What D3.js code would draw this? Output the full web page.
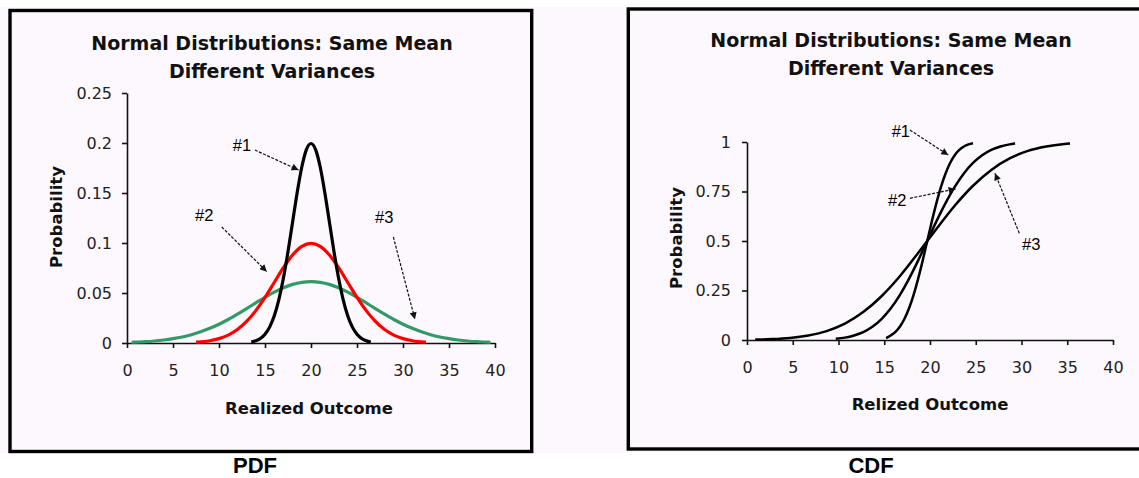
<!DOCTYPE html>
<html><head><meta charset="utf-8">
<script src="https://cdn.jsdelivr.net/npm/d3@7"></script>
<style>body{margin:0;background:#fff}svg{display:block}</style>
</head><body><svg id="c" width="1139" height="478"></svg>
<script>
// ---------- DATA ----------
const titleLines = ["Normal Distributions: Same Mean", "Different Variances"];
const xTicks = [0, 5, 10, 15, 20, 25, 30, 35, 40];
const xTickLabels = ["0", "5", "10", "15", "20", "25", "30", "35", "40"];
const pdfYTicks = [0, 0.05, 0.1, 0.15, 0.2, 0.25];
const pdfYTickLabels = ["0", "0.05", "0.1", "0.15", "0.2", "0.25"];
const cdfYTicks = [0, 0.25, 0.5, 0.75, 1];
const cdfYTickLabels = ["0", "0.25", "0.5", "0.75", "1"];

// PDF #1 (narrow, black)
const pdf1X = [13.5,14,14.5,15,15.5,16,16.5,17,17.5,18,18.5,19,19.5,20,20.5,21,21.5,22,22.5,23,23.5,24,24.5,25,25.5,26,26.5];
const pdf1Y = [0.001,0.0022,0.0045,0.0088,0.0159,0.027,0.0432,0.0648,0.0913,0.121,0.1506,0.176,0.1934,0.1995,0.1934,0.176,0.1506,0.121,0.0913,0.0648,0.0432,0.027,0.0159,0.0088,0.0045,0.0022,0.001];
// PDF #2 (red)
const pdf2X = [7.5,8,9,10,11,12,13,14,15,16,17,18,19,20,21,22,23,24,25,26,27,28,29,30,31,32,32.5];
const pdf2Y = [0.0008,0.0011,0.0023,0.0044,0.0079,0.0135,0.0216,0.0324,0.0456,0.0605,0.0753,0.088,0.0966,0.0997,0.0966,0.088,0.0753,0.0605,0.0456,0.0324,0.0216,0.0135,0.0079,0.0044,0.0023,0.0011,0.0008];
// PDF #3 (green, wide)
const pdf3X = [0.5,1,2,3,4,5,6,7,8,9,10,11,12,13,14,15,16,17,18,19,20,21,22,23,24,25,26,27,28,29,30,31,32,33,34,35,36,37,38,39,39.5];
const pdf3Y = [0.0007,0.0009,0.0013,0.002,0.003,0.0043,0.006,0.0083,0.0112,0.0147,0.0188,0.0235,0.0288,0.0344,0.0401,0.0457,0.0508,0.0552,0.0586,0.0607,0.0614,0.0607,0.0586,0.0552,0.0508,0.0457,0.0401,0.0344,0.0288,0.0235,0.0188,0.0147,0.0112,0.0083,0.006,0.0043,0.003,0.002,0.0013,0.0009,0.0007];

// CDFs
const cdf1X = [15.2,15.7,16.2,16.7,17.2,17.7,18.2,18.7,19.2,19.7,20.2,20.7,21.2,21.7,22.2,22.7,23.2,23.7,24.2,24.7];
const cdf1Y = [0.01,0.023,0.04,0.067,0.106,0.159,0.227,0.309,0.401,0.5,0.599,0.691,0.773,0.841,0.894,0.933,0.96,0.977,0.988,0.994];
const cdf2X = [9.7,10.7,11.7,12.7,13.7,14.7,15.7,16.7,17.7,18.7,19.7,20.7,21.7,22.7,23.7,24.7,25.7,26.7,27.7,28.7,29.3];
const cdf2Y = [0.006,0.012,0.023,0.04,0.067,0.106,0.159,0.227,0.309,0.401,0.5,0.599,0.691,0.773,0.841,0.894,0.933,0.96,0.977,0.988,0.992];
const cdf3X = [0.9,2.7,4.7,6.7,8.7,10.7,12.7,14.7,16.7,18.7,19.7,20.7,22.7,24.7,26.7,28.7,30.7,32.7,34.7,35.3];
const cdf3Y = [0.002,0.0045,0.0105,0.023,0.045,0.083,0.141,0.221,0.322,0.439,0.5,0.561,0.678,0.779,0.859,0.917,0.955,0.977,0.9895,0.992];

// Annotations (data units): label anchor, arrow start, arrow tip
const pdfNotes = [
  {label:"#1", tx:11.5, ty:0.192, x1:13.9, y1:0.193, x2:18.65, y2:0.173},
  {label:"#2", tx:7.4, ty:0.122, x1:10.3, y1:0.116, x2:15.2, y2:0.0713},
  {label:"#3", tx:26.96, ty:0.1203, x1:28.95, y1:0.106, x2:31.3, y2:0.0237}
];
const cdfNotes = [
  {label:"#1", tx:15.81, ty:1.0237, x1:17.81, y1:1.0606, x2:22.0, y2:0.934},
  {label:"#2", tx:15.41, ty:0.678, x1:17.81, y1:0.7157, x2:22.8, y2:0.763},
  {label:"#3", tx:30.05, ty:0.4545, x1:29.76, y1:0.539, x2:27.1, y2:0.842}
];

// ---------- DRAW ----------
const svg = d3.select("#c");
const FONT = "'DejaVu Sans', sans-serif";

svg.append("rect").attr("x",0).attr("y",7).attr("width",1139).attr("height",446).attr("fill","#fdf8fd");

const defs = svg.append("defs");
defs.append("marker").attr("id","arr").attr("viewBox","0 0 10 10")
  .attr("refX",10).attr("refY",5).attr("markerWidth",9).attr("markerHeight",7)
  .attr("markerUnits","userSpaceOnUse").attr("orient","auto")
  .append("path").attr("d","M0,0L10,5L0,10z").attr("fill","#111");

// panel frames
svg.append("rect").attr("x",10).attr("y",10.5).attr("width",521.7).attr("height",441)
  .attr("fill","none").attr("stroke","#000").attr("stroke-width",3.4);
svg.append("rect").attr("x",628.3).attr("y",9).attr("width",600).attr("height",440)
  .attr("fill","none").attr("stroke","#000").attr("stroke-width",3.4);

function panel(o) {
  const g = svg.append("g");
  // title
  titleLines.forEach((t,i) => {
    g.append("text").attr("x",o.titleX).attr("y",o.titleY + i*28)
      .attr("text-anchor","middle").attr("font-family",FONT).attr("font-weight","bold")
      .attr("font-size",19).attr("fill","#111").text(t);
  });
  const x = o.x, y = o.y;
  const xa = g.append("g").attr("transform",`translate(0,${y.range()[0]})`)
    .call(d3.axisBottom(x).tickValues(xTicks).tickFormat((d,i)=>xTickLabels[i])
      .tickSize(5).tickSizeOuter(0).tickPadding(o.xPad));
  const ya = g.append("g").attr("transform",`translate(${x.range()[0]},0)`)
    .call(d3.axisLeft(y).tickValues(o.yTicks).tickFormat((d,i)=>o.yLabels[i])
      .tickSize(5).tickSizeOuter(0).tickPadding(o.yPad));
  [xa, ya].forEach(a => {
    a.attr("font-family",FONT).attr("font-size",16);
    a.selectAll("path,line").attr("stroke","#111").attr("stroke-width",1.6);
    a.selectAll("text").attr("fill","#222");
  });
  // axis titles
  g.append("text").attr("x",o.xLabelX).attr("y",o.xLabelY).attr("text-anchor","middle")
    .attr("font-family",FONT).attr("font-weight","bold").attr("font-size",16.5).attr("fill","#111").text(o.xLabel);
  g.append("text").attr("transform",`translate(${o.yLabelX},${o.yLabelY}) rotate(-90)`).attr("text-anchor","middle")
    .attr("font-family",FONT).attr("font-weight","bold").attr("font-size",16.5).attr("fill","#111").text("Probability");
  // series
  const line = d3.line().x(d=>x(d[0])).y(d=>y(d[1])).curve(d3.curveMonotoneX);
  o.series.forEach(s => {
    g.append("path").attr("d", line(d3.zip(s.xs, s.ys))).attr("fill","none")
      .attr("stroke", s.color).attr("stroke-width", s.w).attr("stroke-linejoin","round");
  });
  // annotations
  o.notes.forEach(n => {
    g.append("text").attr("x",x(n.tx)).attr("y",y(n.ty)).attr("font-family","'Liberation Sans', Arial, sans-serif")
      .attr("font-size",16.5).attr("fill","#000").text(n.label);
    g.append("line").attr("x1",x(n.x1)).attr("y1",y(n.y1)).attr("x2",x(n.x2)).attr("y2",y(n.y2))
      .attr("stroke","#111").attr("stroke-width",1.2).attr("stroke-dasharray","3,1.5")
      .attr("marker-end","url(#arr)");
  });
  // bottom caption
  g.append("text").attr("x",o.capX).attr("y",473).attr("text-anchor","middle")
    .attr("font-family","'Liberation Sans', Arial, sans-serif").attr("font-weight","bold")
    .attr("font-size",22).attr("fill","#000").text(o.caption);
}

panel({
  titleX:272, titleY:50,
  x: d3.scaleLinear().domain([0,40]).range([127,495]),
  y: d3.scaleLinear().domain([0,0.25]).range([343,93]),
  yTicks: pdfYTicks, yLabels: pdfYTickLabels, xPad:17, yPad:10,
  xLabel:"Realized Outcome", xLabelX:309, xLabelY:414, yLabelX:62, yLabelY:217,
  series:[
    {xs:pdf3X, ys:pdf3Y, color:"#339966", w:3.2},
    {xs:pdf2X, ys:pdf2Y, color:"#ff0000", w:3.2},
    {xs:pdf1X, ys:pdf1Y, color:"#000000", w:3.2}
  ],
  notes: pdfNotes, caption:"PDF", capX:255
});

panel({
  titleX:891, titleY:47,
  x: d3.scaleLinear().domain([0,40]).range([747,1113]),
  y: d3.scaleLinear().domain([0,1]).range([340,142]),
  yTicks: cdfYTicks, yLabels: cdfYTickLabels, xPad:17, yPad:11,
  xLabel:"Relized Outcome", xLabelX:930, xLabelY:410, yLabelX:682, yLabelY:238,
  series:[
    {xs:cdf3X, ys:cdf3Y, color:"#000000", w:2.5},
    {xs:cdf2X, ys:cdf2Y, color:"#000000", w:2.5},
    {xs:cdf1X, ys:cdf1Y, color:"#000000", w:2.5}
  ],
  notes: cdfNotes, caption:"CDF", capX:871
});
</script></body></html>
